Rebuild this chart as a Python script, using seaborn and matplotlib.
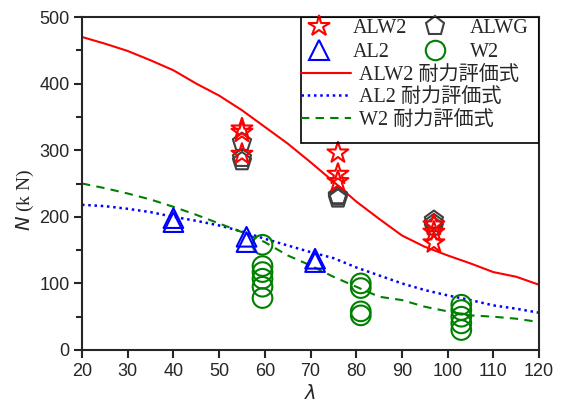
import matplotlib
matplotlib.use("Agg")
import matplotlib.pyplot as plt
from matplotlib.lines import Line2D
from matplotlib.patches import Rectangle
import seaborn as sns
import pandas as pd

sns.set_style("ticks")
plt.rcParams['font.family'] = ['Liberation Sans', 'Noto Sans CJK JP']

# ---- data ----
alw2_x = [55, 55, 55, 76, 76, 76, 97, 97, 97]
alw2_y = [332, 327, 294, 296, 264, 253, 188, 177, 161]
alwg_x = [55, 55, 55, 76, 76, 76, 97, 97, 97]
alwg_y = [312, 288, 283, 232, 230, 227, 195, 190, 185]
al2_x = [40, 40, 56, 56, 71, 71]
al2_y = [198, 192, 170, 162, 137, 132]
w2_x = [59.5, 59.5, 59.5, 59.5, 59.5, 59.5, 81, 81, 81, 81, 103, 103, 103, 103, 103]
w2_y = [158, 126, 117, 107, 95, 78, 100, 93, 58, 52, 68, 60, 50, 40, 30]

lam = [20, 25, 30, 35, 40, 45, 50, 55, 60, 65, 70, 75, 80, 85, 90, 95, 100, 105, 110, 115, 120]
alw2_eval = [470, 460, 449, 435, 420, 400, 382, 360, 335, 310, 282, 253, 223, 197, 172, 155, 142, 130, 117, 110, 98]
al2_eval = [218, 216, 212, 207, 200, 194, 187, 178, 167, 157, 147, 138, 124, 112, 100, 90, 82, 75, 67, 62, 56]
w2_eval = [250, 243, 235, 226, 215, 203, 190, 177, 162, 142, 127, 110, 95, 80, 75, 65, 58, 52, 50, 47, 42]

xticks = [20, 30, 40, 50, 60, 70, 80, 90, 100, 110, 120]
yticks = [0, 100, 200, 300, 400, 500]

RED = '#ff0000'
BLUE = '#0000ff'
GREEN = '#008000'
GRAY = '#404040'

fig = plt.figure(figsize=(5.64, 4.03), dpi=100)
ax = fig.add_axes([82/564, 1-350/403, 457/564, 333/403])

curves = pd.DataFrame({'lam': lam, 'alw2': alw2_eval, 'al2': al2_eval, 'w2': w2_eval})
sns.lineplot(data=curves, x='lam', y='alw2', color=RED, lw=1.5, ax=ax)
sns.lineplot(data=curves, x='lam', y='al2', color=BLUE, lw=1.8, ls=(0, (1, 1.5)), ax=ax)
sns.lineplot(data=curves, x='lam', y='w2', color=GREEN, lw=1.5, ls=(0, (4, 3)), ax=ax)

def pts(xs, ys, marker, color, s):
    sns.scatterplot(x=xs, y=ys, marker=marker, s=s, color=color, ax=ax, zorder=3)
    coll = ax.collections[-1]
    coll.set_facecolor('none')
    coll.set_edgecolor(color)
    coll.set_linewidth(1.5)

pts(w2_x, w2_y, 'o', GREEN, 200)
pts(al2_x, al2_y, '^', BLUE, 200)
pts(alwg_x, alwg_y, 'p', GRAY, 190)
pts(alw2_x, alw2_y, '*', RED, 250)

ax.set_xlim(20, 120)
ax.set_ylim(0, 500)
ax.set_xticks(xticks)
ax.set_yticks(yticks)
ax.set_yticks([50, 150, 250, 350, 450], minor=True)
ax.tick_params(axis='both', which='major', direction='out', length=6, width=1.5, labelsize=13, pad=3)
ax.tick_params(axis='y', which='minor', direction='out', length=4, width=1.5)
for sp in ax.spines.values():
    sp.set_linewidth(1.5)
    sp.set_visible(True)

ax.set_xlabel(r'$\lambda$', fontsize=14, labelpad=3)
ax.set_ylabel('')
fig.text(0.045, 1-200/403, '$N$ (k N)', rotation=90, fontsize=14,
         family=['Liberation Serif'], ha='center', va='center')

# ---- legend ----
lfam = ['Liberation Serif', 'Noto Sans CJK JP']
mk_handles = [
    Line2D([], [], ls='', marker='*', ms=16, mfc='none', mec=RED, mew=1.5),
    Line2D([], [], ls='', marker='^', ms=14, mfc='none', mec=BLUE, mew=1.5),
    Line2D([], [], ls='', marker='p', ms=14, mfc='none', mec=GRAY, mew=1.5),
    Line2D([], [], ls='', marker='o', ms=14, mfc='none', mec=GREEN, mew=1.5),
]
mk_labels = ['ALW2', 'AL2', 'ALWG', 'W2']
leg1 = ax.legend(mk_handles, mk_labels, ncol=2, loc='upper left',
                 bbox_to_anchor=(0.465, 1.0), frameon=False,
                 prop={'family': lfam, 'size': 14.5}, handlelength=2.2,
                 labelspacing=0.22, columnspacing=0.3, handletextpad=0.6,
                 borderpad=0.1, borderaxespad=0)
ax.add_artist(leg1)
ln_handles = [
    Line2D([], [], color=RED, lw=1.5),
    Line2D([], [], color=BLUE, lw=1.8, ls=(0, (1, 1.5))),
    Line2D([], [], color=GREEN, lw=1.5, ls=(0, (4, 3))),
]
ln_labels = ['ALW2 耐力評価式', 'AL2 耐力評価式', 'W2 耐力評価式']
ax.legend(ln_handles, ln_labels, loc='upper left', bbox_to_anchor=(0.475, 0.86),
          frameon=False, prop={'family': lfam, 'size': 14.5}, handlelength=2.5,
          labelspacing=0.18, handletextpad=0.4, borderpad=0.1, borderaxespad=0)
ax.add_patch(Rectangle((219/457, 1-126/333), 1-219/457, 126/333,
                       transform=ax.transAxes, fill=False, ec='black', lw=1.2, zorder=5))

fig.savefig('out.png', dpi=100)
